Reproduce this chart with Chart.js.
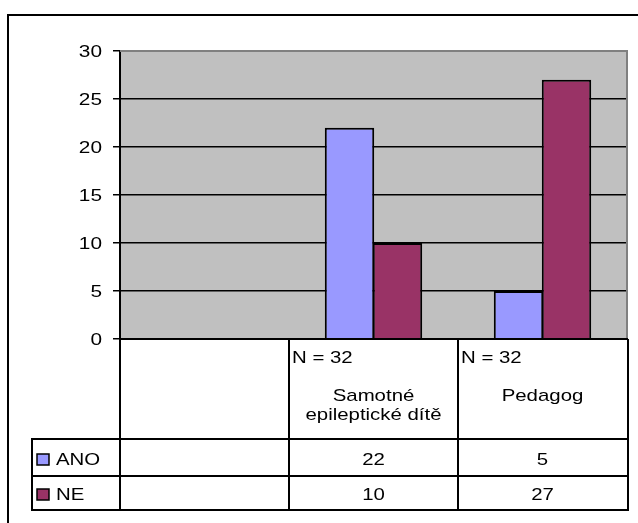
<!DOCTYPE html>
<html>
<head>
<meta charset="utf-8">
<script src="https://cdn.jsdelivr.net/npm/chart.js@4/dist/chart.umd.min.js"></script>
<style>
  html, body { margin: 0; padding: 0; background: #fff; }
  canvas { display: block; }
</style>
</head>
<body>
<canvas id="chart" width="638" height="523"></canvas>
<script>
// Categories (first column of the table is empty), sample size per group
const categories = ['', 'Samotné epileptické dítě', 'Pedagog'];
const categoryLines = [[], ['Samotné', 'epileptické dítě'], ['Pedagog']];
const groupN = [null, 32, 32];

// Answers per group
const seriesNames = ['ANO', 'NE'];
const valuesANO = [null, 22, 5];
const valuesNE = [null, 10, 27];

// Value axis
const yMin = 0, yMax = 30, yStep = 5;

const FONT = '"Liberation Sans", Arial, sans-serif';
const STRETCH_TABLE = 1.2;
const STRETCH_AXIS = 1.3;

function stretchedText(ctx, text, x, y, align, size, sx) {
  ctx.save();
  ctx.font = size + 'px ' + FONT;
  ctx.fillStyle = '#000';
  ctx.textBaseline = 'alphabetic';
  const w = ctx.measureText(text).width * sx;
  let left = x;
  if (align === 'center') left = x - w / 2;
  else if (align === 'right') left = x - w;
  ctx.translate(left, y);
  ctx.scale(sx, 1);
  ctx.textAlign = 'left';
  ctx.fillText(text, 0, 0);
  ctx.restore();
}

function line(ctx, x1, y1, x2, y2, color, width) {
  ctx.save();
  ctx.strokeStyle = color;
  ctx.lineWidth = width;
  ctx.beginPath();
  ctx.moveTo(x1, y1);
  ctx.lineTo(x2, y2);
  ctx.stroke();
  ctx.restore();
}

const plotBackground = {
  id: 'plotBackground',
  beforeDraw(chart) {
    const { ctx, chartArea: a } = chart;
    ctx.save();
    ctx.fillStyle = '#c0c0c0';
    ctx.fillRect(a.left, a.top, a.right - a.left, a.bottom - a.top);
    ctx.restore();
  }
};

const dataTable = {
  id: 'dataTable',
  afterDraw(chart) {
    const { ctx, chartArea: a } = chart;
    const x = chart.scales.x, y = chart.scales.y;

    // grey frame of the plot area (top and right)
    line(ctx, a.left, a.top, a.right + 1, a.top, '#808080', 2);
    line(ctx, a.right, a.top, a.right, a.bottom, '#808080', 2);

    // value axis labels
    y.ticks.forEach(t => {
      const py = y.getPixelForValue(t.value);
      stretchedText(ctx, String(t.value), a.left - 18, py + 6, 'right', 16, STRETCH_AXIS);
    });

    // table geometry
    const n = categories.length;
    const colW = (a.right - a.left) / n;
    const tableRight = a.right + 1;
    const legendLeft = 32;
    const rowTop = a.bottom;
    const rowCat = rowTop + 100;
    const rowAno = rowCat + 37;
    const rowNe = rowAno + 34;

    const bk = '#000';
    line(ctx, a.left, rowTop, tableRight, rowTop, bk, 2);
    line(ctx, legendLeft, rowCat, tableRight, rowCat, bk, 2);
    line(ctx, legendLeft, rowAno, tableRight, rowAno, bk, 2);
    line(ctx, legendLeft, rowNe, tableRight, rowNe, bk, 2);
    line(ctx, legendLeft, rowCat - 1, legendLeft, rowNe + 1, bk, 2);
    for (let i = 0; i <= n; i++) {
      const cx = Math.round(a.left + i * colW);
      line(ctx, i === n ? tableRight : cx, rowTop, i === n ? tableRight : cx, rowNe + 1, bk, 2);
    }

    // category cells
    for (let i = 0; i < n; i++) {
      const cl = a.left + i * colW;
      const cc = x.getPixelForValue(i);
      if (groupN[i] !== null) {
        stretchedText(ctx, 'N = ' + groupN[i], cl + 3, rowTop + 24, 'left', 17, STRETCH_TABLE);
      }
      categoryLines[i].forEach((s, k) => {
        stretchedText(ctx, s, cc, rowTop + 62 + k * 19, 'center', 17, STRETCH_TABLE);
      });
    }

    // legend + value rows
    const rows = [rowCat, rowAno];
    chart.data.datasets.forEach((ds, r) => {
      const top = rows[r];
      const bottom = r === 0 ? rowAno : rowNe;
      const base = Math.round((top + bottom) / 2) + 7;
      ctx.save();
      ctx.fillStyle = ds.backgroundColor;
      ctx.fillRect(37, base - 11, 12, 11);
      ctx.strokeStyle = '#000';
      ctx.lineWidth = 1.5;
      ctx.strokeRect(37, base - 11, 12, 11);
      ctx.restore();
      stretchedText(ctx, ds.label, 56, base, 'left', 17, STRETCH_TABLE);
      ds.data.forEach((v, i) => {
        if (v !== null) stretchedText(ctx, String(v), x.getPixelForValue(i), base, 'center', 17, STRETCH_TABLE);
      });
    });

    // outer chart frame
    line(ctx, 8, 15, 638, 15, bk, 2);
    line(ctx, 8, 14, 8, 523, bk, 2);
  }
};

new Chart(document.getElementById('chart'), {
  type: 'bar',
  data: {
    labels: categories,
    datasets: [
      { label: seriesNames[0], data: valuesANO, backgroundColor: '#9999ff', borderColor: '#000', borderWidth: 2 },
      { label: seriesNames[1], data: valuesNE, backgroundColor: '#993366', borderColor: '#000', borderWidth: 2 }
    ]
  },
  options: {
    responsive: false,
    animation: false,
    events: [],
    devicePixelRatio: 1,
    layout: { padding: { top: 51, right: 11, bottom: 184, left: 0 } },
    datasets: { bar: { categoryPercentage: 0.568, barPercentage: 1.03 } },
    plugins: { legend: { display: false }, tooltip: { enabled: false } },
    scales: {
      x: { display: false },
      y: {
        min: yMin, max: yMax,
        ticks: { stepSize: yStep, color: 'rgba(0,0,0,0)', font: { size: 16 } },
        afterFit(s) { s.width = 120; },
        grid: {
          color: c => (c.tick && (c.tick.value === yMax || c.tick.value === yMin)) ? 'rgba(0,0,0,0)' : '#000',
          tickColor: '#000',
          lineWidth: 1.5,
          tickLength: 7
        },
        border: { display: true, color: '#000', width: 2 }
      }
    }
  },
  plugins: [plotBackground, dataTable]
});
</script>
</body>
</html>
